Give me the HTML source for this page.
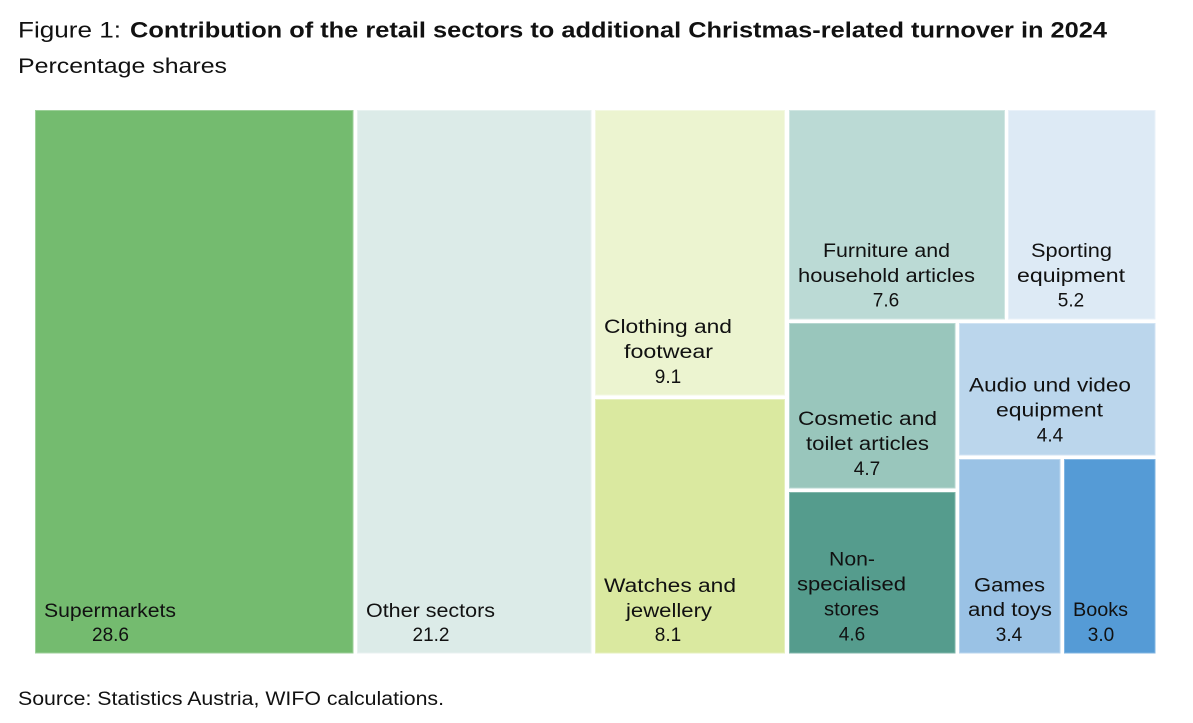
<!DOCTYPE html>
<html>
<head>
<meta charset="utf-8">
<style>
  html, body { margin:0; padding:0; background:#ffffff; }
  body { width:1193px; height:723px; overflow:hidden; }
  svg { display:block; }
  text { font-family:"Liberation Sans", "DejaVu Sans", sans-serif; fill:#111111; }
  .lab { font-size:19px; }
</style>
</head>
<body>
<svg width="1193" height="723" viewBox="0 0 1193 723" xmlns="http://www.w3.org/2000/svg">
  <rect x="0" y="0" width="1193" height="723" fill="#ffffff"/>

  <!-- Title -->
  <text x="18" y="37.5" font-size="22" textLength="103" lengthAdjust="spacingAndGlyphs">Figure 1:</text>
  <text x="130" y="37.5" font-size="22" font-weight="bold" textLength="977" lengthAdjust="spacingAndGlyphs">Contribution of the retail sectors to additional Christmas-related turnover in 2024</text>
  <text x="18" y="73" font-size="21" textLength="209" lengthAdjust="spacingAndGlyphs">Percentage shares</text>

  <!-- Treemap rectangles -->
  <g stroke-width="1">
    <rect x="35.5" y="110.5" width="317.5" height="542.5" fill="#74BB6F" stroke="#9CCF98"/>
    <rect x="357.5" y="110.5" width="233.5" height="542.5" fill="#DCEBE8" stroke="#E8F2F0"/>
    <rect x="595.5" y="110.5" width="189" height="284.5" fill="#ECF4D0" stroke="#F3F8E2"/>
    <rect x="595.5" y="399.5" width="189" height="253.5" fill="#DAE9A0" stroke="#E6F0BE"/>
    <rect x="789.5" y="110.5" width="215" height="208.5" fill="#BBDAD5" stroke="#D0E6E2"/>
    <rect x="1008.5" y="110.5" width="146.5" height="208.5" fill="#DDEAF5" stroke="#E9F1F9"/>
    <rect x="789.5" y="323.5" width="165.5" height="164.5" fill="#99C6BC" stroke="#B6D7D0"/>
    <rect x="959.5" y="323.5" width="195.5" height="131.5" fill="#BBD6EC" stroke="#D0E3F3"/>
    <rect x="789.5" y="492.5" width="165.5" height="160.5" fill="#559C8D" stroke="#80B6AA"/>
    <rect x="959.5" y="459.5" width="100.5" height="193.5" fill="#9AC2E5" stroke="#B9D5EE"/>
    <rect x="1064.5" y="459.5" width="90.5" height="193.5" fill="#559BD6" stroke="#80B5E2"/>
  </g>

  <!-- Labels -->
  <g class="lab">
    <text class="lab" x="44" y="617" textLength="132" lengthAdjust="spacingAndGlyphs">Supermarkets</text>
    <text class="lab" x="110.5" y="641" text-anchor="middle">28.6</text>

    <text class="lab" x="366" y="617" textLength="129" lengthAdjust="spacingAndGlyphs">Other sectors</text>
    <text class="lab" x="431" y="641" text-anchor="middle">21.2</text>

    <text class="lab" x="604" y="333" textLength="128" lengthAdjust="spacingAndGlyphs">Clothing and</text>
    <text class="lab" x="624" y="358" textLength="89" lengthAdjust="spacingAndGlyphs">footwear</text>
    <text class="lab" x="668" y="383" text-anchor="middle">9.1</text>

    <text class="lab" x="604" y="592" textLength="132" lengthAdjust="spacingAndGlyphs">Watches and</text>
    <text class="lab" x="626" y="617" textLength="86" lengthAdjust="spacingAndGlyphs">jewellery</text>
    <text class="lab" x="668" y="641" text-anchor="middle">8.1</text>

    <text class="lab" x="823" y="257" textLength="127" lengthAdjust="spacingAndGlyphs">Furniture and</text>
    <text class="lab" x="798" y="282" textLength="177" lengthAdjust="spacingAndGlyphs">household articles</text>
    <text class="lab" x="886" y="306.5" text-anchor="middle">7.6</text>

    <text class="lab" x="1031" y="257" textLength="81" lengthAdjust="spacingAndGlyphs">Sporting</text>
    <text class="lab" x="1017" y="282" textLength="108" lengthAdjust="spacingAndGlyphs">equipment</text>
    <text class="lab" x="1071" y="306.5" text-anchor="middle">5.2</text>

    <text class="lab" x="798" y="425" textLength="139" lengthAdjust="spacingAndGlyphs">Cosmetic and</text>
    <text class="lab" x="806" y="450" textLength="123" lengthAdjust="spacingAndGlyphs">toilet articles</text>
    <text class="lab" x="867" y="475" text-anchor="middle">4.7</text>

    <text class="lab" x="969" y="391.5" textLength="162" lengthAdjust="spacingAndGlyphs">Audio und video</text>
    <text class="lab" x="996" y="416.5" textLength="107" lengthAdjust="spacingAndGlyphs">equipment</text>
    <text class="lab" x="1050" y="441.5" text-anchor="middle">4.4</text>

    <text class="lab" x="829" y="565.5" textLength="46" lengthAdjust="spacingAndGlyphs">Non-</text>
    <text class="lab" x="797" y="590.5" textLength="109" lengthAdjust="spacingAndGlyphs">specialised</text>
    <text class="lab" x="824" y="615.5" textLength="55" lengthAdjust="spacingAndGlyphs">stores</text>
    <text class="lab" x="852" y="640.5" text-anchor="middle">4.6</text>

    <text class="lab" x="974" y="591.5" textLength="71" lengthAdjust="spacingAndGlyphs">Games</text>
    <text class="lab" x="968" y="616" textLength="84" lengthAdjust="spacingAndGlyphs">and toys</text>
    <text class="lab" x="1009" y="641" text-anchor="middle">3.4</text>

    <text class="lab" x="1073" y="616" textLength="55" lengthAdjust="spacingAndGlyphs">Books</text>
    <text class="lab" x="1101" y="641" text-anchor="middle">3.0</text>
  </g>

  <!-- Source -->
  <text x="18" y="705" font-size="19" textLength="426" lengthAdjust="spacingAndGlyphs">Source: Statistics Austria, WIFO calculations.</text>
</svg>
</body>
</html>
